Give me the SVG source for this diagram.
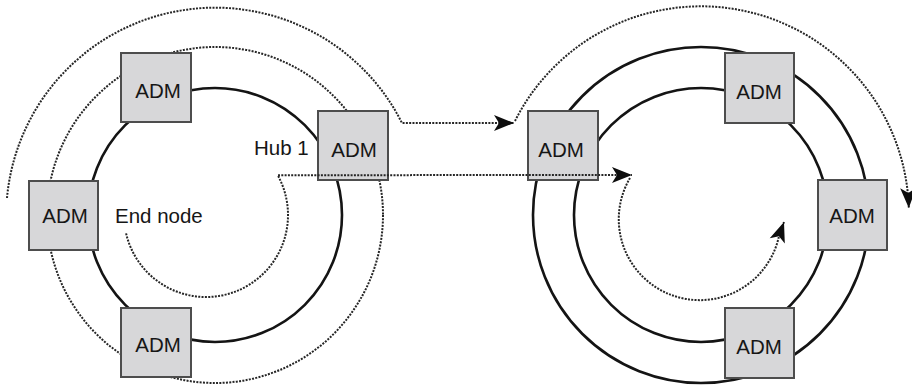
<svg xmlns="http://www.w3.org/2000/svg" width="912" height="387" viewBox="0 0 912 387">
<style>
.ring{fill:none;stroke:#141414;stroke-width:2.6}
.dot{fill:none;stroke:#262626;stroke-width:2;stroke-dasharray:2 1.3}
.box{fill:#d7d7d9;stroke:#4d4d4d;stroke-width:2}
.lbl{font-family:"Liberation Sans",Arial,sans-serif;font-size:20.5px;fill:#161616}
.adm{text-anchor:middle}
</style>
<defs>
<marker id="arr" markerUnits="userSpaceOnUse" markerWidth="22" markerHeight="17" refX="20" refY="8" orient="auto" overflow="visible">
<path d="M0,0 L20,8 L0,16 L5,8 z" fill="#0d0d0d"/>
</marker>
</defs>
<rect width="912" height="387" fill="#fff"/>
<g id="rings">
<circle class="ring" cx="215" cy="215" r="127"/>
<circle class="dot" cx="215" cy="215" r="168"/>
<circle class="ring" cx="701" cy="215" r="127"/>
<circle class="ring" cx="701" cy="215" r="168"/>
</g>
<g id="left-top-adm"><rect class="box" x="121" y="53" width="70" height="69"/><text class="lbl adm" x="158" y="98">ADM</text></g>
<g id="hub1-adm"><rect class="box" x="318" y="111" width="70" height="69"/><text class="lbl adm" x="354" y="157">ADM</text></g>
<g id="left-end-adm"><rect class="box" x="29" y="181" width="69" height="69"/><text class="lbl adm" x="65" y="223">ADM</text></g>
<g id="left-bottom-adm"><rect class="box" x="121" y="308" width="70" height="69"/><text class="lbl adm" x="158" y="352">ADM</text></g>
<g id="right-hub-adm"><rect class="box" x="528" y="111" width="70" height="69"/><text class="lbl adm" x="561" y="157">ADM</text></g>
<g id="right-top-adm"><rect class="box" x="725" y="53" width="69" height="70"/><text class="lbl adm" x="759" y="99">ADM</text></g>
<g id="right-end-adm"><rect class="box" x="818" y="180" width="69" height="70"/><text class="lbl adm" x="852" y="223">ADM</text></g>
<g id="right-bottom-adm"><rect class="box" x="725" y="308" width="69" height="70"/><text class="lbl adm" x="759" y="354">ADM</text></g>
<g id="labels">
<text class="lbl" x="254" y="155">Hub 1</text>
<text class="lbl" x="115" y="223">End node</text>
</g>
<g id="connectors">
<path class="dot" d="M7,198 A209,209 0 0 1 402,123 L514,123" marker-end="url(#arr)"/>
<path class="dot" d="M515,121 A208,208 0 0 1 908.8,208" marker-end="url(#arr)"/>
<path class="dot" d="M126.1,233.4 A82,82 0 1 0 277.7,175.2 L632,175" marker-end="url(#arr)"/>
<path class="dot" d="M630,178 A81,81 0 1 0 779,236 L784,222" marker-end="url(#arr)"/>
</g>
</svg>
